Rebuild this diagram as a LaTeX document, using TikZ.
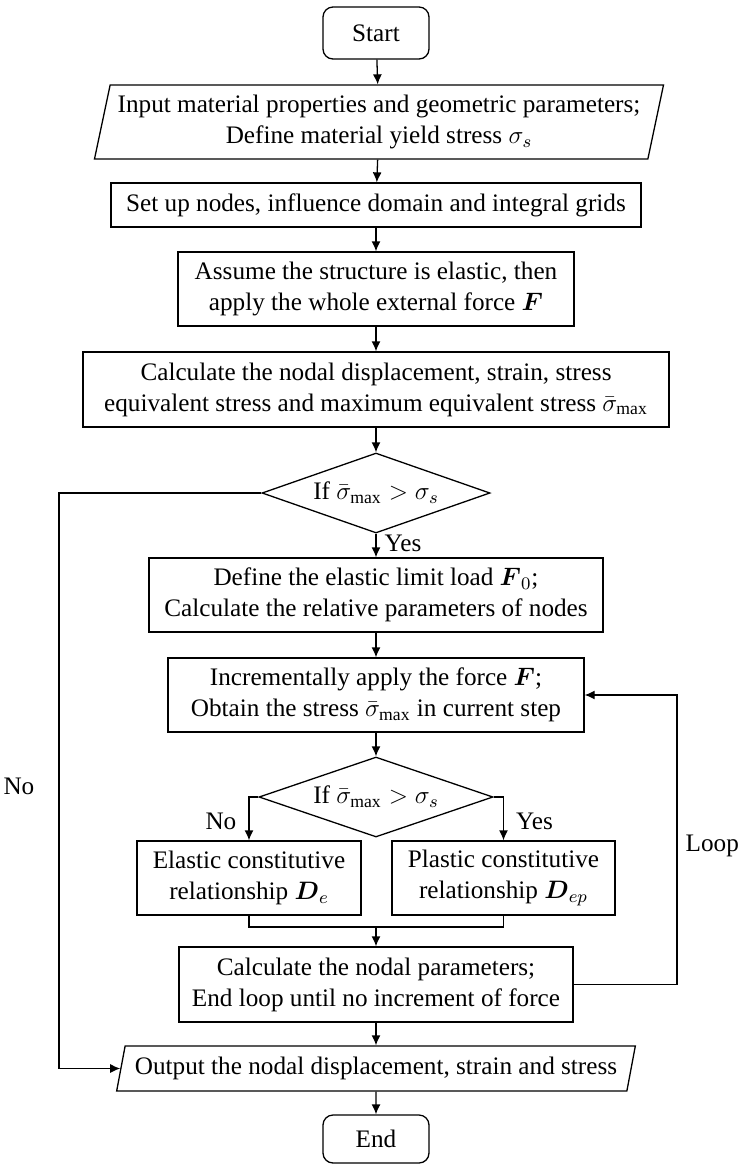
\documentclass[tikz,border=0pt]{standalone}
\usepackage{fix-cm}
\usepackage{amsmath}
\usepackage{fontspec}
\setmainfont{Liberation Serif}
\usetikzlibrary{shapes.geometric,arrows.meta}

\begin{document}
\begin{tikzpicture}[x=0.5pt,y=-0.5pt,
    every node/.style={font=\fontsize{12.6}{15.5}\selectfont},
    box/.style={draw, rectangle, align=center, inner sep=2pt, line width=0.65pt},
    term/.style={box, rounded corners=5pt},
    io/.style={draw, trapezium, trapezium left angle=76, trapezium right angle=104,
      trapezium stretches=true, align=center, inner sep=2pt, line width=0.65pt},
    test/.style={draw, diamond, aspect=2.85, inner sep=0pt, line width=0.65pt},
    arr/.style={-{Latex[length=5pt,width=4.5pt]}, line width=0.65pt},
    line/.style={line width=0.65pt}]
  \useasboundingbox (0,0) rectangle (739,1164);

  % Main column
  \node[term, minimum width=53pt, minimum height=26pt] (start) at (376,33) {Start};
  \node[io, minimum width=285pt, minimum height=37pt] (input) at (379,122)
    {Input material properties and geometric parameters;\\ Define material yield stress $\sigma_s$};
  \node[box, minimum width=265pt, minimum height=22pt] (setup) at (376,205)
    {Set up nodes, influence domain and integral grids};
  \node[box, minimum width=198pt, minimum height=37pt] (assume) at (376,289)
    {Assume the structure is elastic, then\\ apply the whole external force $\boldsymbol{F}$};
  \node[box, minimum width=293pt, minimum height=37.5pt] (calc) at (376,389.5)
    {Calculate the nodal displacement, strain, stress\\ equivalent stress and maximum equivalent stress $\bar{\sigma}_{\max}$};

  % First check
  \node[test, minimum width=114pt, minimum height=40pt] (check) at (376,493)
    {If $\bar{\sigma}_{\max} > \sigma_s$};
  \node[box, minimum width=227pt, minimum height=37pt] (limit) at (376,595)
    {Define the elastic limit load $\boldsymbol{F}_0$;\\ Calculate the relative parameters of nodes};
  \node[box, minimum width=208pt, minimum height=37pt] (incr) at (376,695)
    {Incrementally apply the force $\boldsymbol{F}$;\\ Obtain the stress $\bar{\sigma}_{\max}$ in current step};

  % Second check
  \node[test, minimum width=117pt, minimum height=40pt] (stepcheck) at (376,797)
    {If $\bar{\sigma}_{\max} > \sigma_s$};
  \node[box, minimum width=112pt, minimum height=37pt] (elastic) at (249,878)
    {Elastic constitutive\\ relationship $\boldsymbol{D}_e$};
  \node[box, minimum width=111.5pt, minimum height=37pt] (plastic) at (503.5,878)
    {Plastic constitutive\\ relationship $\boldsymbol{D}_{ep}$};
  \node[box, minimum width=197pt, minimum height=37.5pt] (update) at (376,984.5)
    {Calculate the nodal parameters;\\ End loop until no increment of force};

  \node[io, trapezium left angle=75, trapezium right angle=105,
    minimum width=260pt, minimum height=22.5pt] (output) at (376,1068.5)
    {Output the nodal displacement, strain and stress};
  \node[term, minimum width=53pt, minimum height=24pt] (end) at (376,1139) {End};

  % Turning points
  \coordinate (nocorner) at (59,493);
  \coordinate (merge) at (376,927);
  \coordinate (loopcorner) at (677,984.5);

  % Connectors
  \draw[arr] (start) -- (input);
  \draw[arr] (input) -- (setup);
  \draw[arr] (setup) -- (assume);
  \draw[arr] (assume) -- (calc);
  \draw[arr] (calc) -- (check);
  \draw[arr] (check) -- node[right, inner sep=4pt, pos=0.4] {Yes} (limit);
  \draw[arr] (limit) -- (incr);
  \draw[arr] (incr) -- (stepcheck);
  \draw[arr] (stepcheck.west) -| node[left, pos=0.78, inner sep=6pt] {No} (elastic.north);
  \draw[arr] (stepcheck.east) -| node[right, pos=0.78, inner sep=6pt] {Yes} (plastic.north);
  \draw[line] (elastic.south) |- (merge) -| (plastic.south);
  \draw[arr] (merge) -- (update);
  \draw[arr] (update) -- (output);
  \draw[arr] (output) -- (end);

  % No branch and loop
  \draw[arr] (check.west) -- (nocorner) |- node[left, pos=0.255, inner sep=12pt] {No} (output.west);
  \draw[arr] (update.east) -- (loopcorner) |- node[right, pos=0.24, inner sep=4pt] {Loop} (incr.east);

\end{tikzpicture}
\end{document}
